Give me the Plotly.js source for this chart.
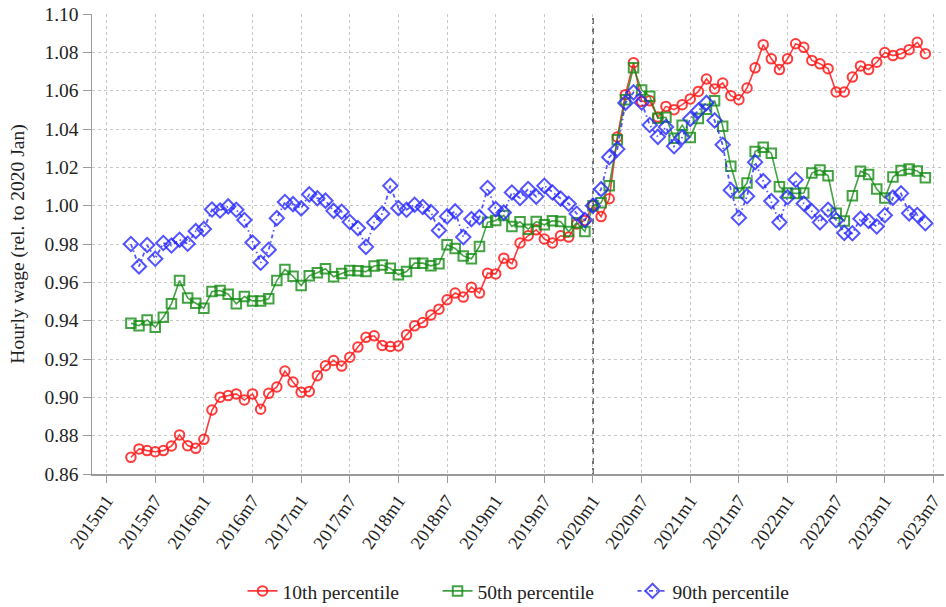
<!DOCTYPE html>
<html>
<head>
<meta charset="utf-8">
<script src="https://cdn.plot.ly/plotly-3.0.1.min.js"></script>
<style>html,body{margin:0;padding:0;background:#fff;}#chart{width:946px;height:607px;}</style>
</head>
<body>
<div id="chart"></div>
<script>
// First observation: 2015m4, monthly through 2023m6
const firstYear = 2015, firstMonth = 4;
const eventLabel = '2020m1';
const tickLabels = ['2015m1','2015m7','2016m1','2016m7','2017m1','2017m7','2018m1','2018m7','2019m1','2019m7','2020m1','2020m7','2021m1','2021m7','2022m1','2022m7','2023m1','2023m7'];
const yTicks = [0.86,0.88,0.90,0.92,0.94,0.96,0.98,1.00,1.02,1.04,1.06,1.08,1.10];
const seriesNames = ['10th percentile','50th percentile','90th percentile'];

const p10 = [0.8687,0.8731,0.8722,0.8716,0.8722,0.8746,0.8804,0.8748,0.8734,0.8781,
0.8934,0.9001,0.9009,0.9018,0.8986,0.9018,0.8938,0.9021,0.9054,0.9137,
0.9080,0.9027,0.9031,0.9113,0.9165,0.9192,0.9163,0.9209,0.9262,0.9313,
0.9321,0.9271,0.9265,0.9268,0.9326,0.9373,0.9390,0.9429,0.9460,0.9509,
0.9544,0.9523,0.9575,0.9544,0.9648,0.9644,0.9726,0.9697,0.9805,0.9843,
0.9874,0.9826,0.9805,0.9843,0.9836,0.9905,0.9923,1.0000,0.9943,1.0036,
1.0358,1.0579,1.0746,1.0544,1.0548,1.0462,1.0518,1.0501,1.0527,1.0557,
1.0596,1.0661,1.0609,1.0640,1.0574,1.0553,1.0614,1.0719,1.0840,1.0766,
1.0710,1.0766,1.0845,1.0826,1.0758,1.0740,1.0715,1.0593,1.0593,1.0671,
1.0729,1.0710,1.0748,1.0799,1.0783,1.0793,1.0814,1.0852,1.0793];

const p50 = [0.9387,0.9374,0.9404,0.9366,0.9418,0.9488,0.9609,0.9518,0.9491,0.9465,
0.9552,0.9557,0.9538,0.9488,0.9526,0.9503,0.9503,0.9514,0.9609,0.9667,
0.9632,0.9583,0.9634,0.9650,0.9671,0.9629,0.9646,0.9662,0.9660,0.9656,
0.9685,0.9690,0.9673,0.9639,0.9656,0.9700,0.9700,0.9686,0.9697,0.9796,
0.9777,0.9738,0.9723,0.9787,0.9913,0.9923,0.9949,0.9891,0.9916,0.9877,
0.9917,0.9900,0.9921,0.9917,0.9865,0.9911,0.9865,1.0000,1.0015,1.0104,
1.0344,1.0553,1.0720,1.0603,1.0571,1.0456,1.0461,1.0352,1.0420,1.0356,
1.0455,1.0503,1.0548,1.0415,1.0206,1.0066,1.0118,1.0283,1.0305,1.0274,
1.0099,1.0066,1.0064,1.0066,1.0170,1.0186,1.0156,0.9960,0.9920,1.0052,
1.0180,1.0162,1.0087,1.0040,1.0149,1.0184,1.0191,1.0181,1.0146];

const p90 = [0.9800,0.9683,0.9795,0.9723,0.9805,0.9792,0.9822,0.9801,0.9867,0.9878,
0.9980,0.9975,0.9996,0.9979,0.9925,0.9808,0.9702,0.9770,0.9935,1.0019,
1.0008,0.9986,1.0059,1.0039,1.0026,0.9973,0.9968,0.9915,0.9883,0.9785,
0.9912,0.9958,1.0104,0.9987,0.9979,1.0005,0.9993,0.9967,0.9871,0.9944,
0.9970,0.9836,0.9930,0.9940,1.0092,0.9982,0.9964,1.0069,1.0040,1.0087,
1.0047,1.0104,1.0069,1.0037,1.0010,0.9958,0.9925,1.0000,1.0086,1.0253,
1.0295,1.0536,1.0591,1.0538,1.0421,1.0359,1.0410,1.0310,1.0356,1.0453,
1.0496,1.0536,1.0445,1.0318,1.0081,0.9937,1.0049,1.0227,1.0128,1.0024,
0.9913,1.0044,1.0135,1.0011,0.9971,0.9913,0.9979,0.9924,0.9858,0.9856,
0.9932,0.9920,0.9891,0.9950,1.0042,1.0064,0.9960,0.9951,0.9908];

// month index (0 = 2015m1)
function labelToIndex(lbl){ const [y,m] = lbl.split('m').map(Number); return (y-2015)*12 + (m-1); }
const x = p10.map((_, i) => (firstYear-2015)*12 + (firstMonth-1) + i);
const tickVals = tickLabels.map(labelToIndex);

const serif = '"Liberation Serif", "Times New Roman", serif';
const fs = 19.5;
const styles = [
  {color:'rgba(255,25,25,0.85)', symbol:'circle-open', size:9.5, dash:'solid', width:1.6},
  {color:'rgba(20,140,20,0.8)', symbol:'square-open', size:9.5, dash:'solid', width:1.6},
  {color:'rgba(40,40,255,0.8)', symbol:'diamond-open', size:11, dash:'4px,3px,1.5px,3px', width:1.8}
];
const data = [p10, p50, p90].map((ys, k) => ({
  x: x, y: ys, type:'scatter', mode:'lines+markers', name: seriesNames[k],
  line:{color:styles[k].color, width:styles[k].width, dash:styles[k].dash},
  marker:{symbol:styles[k].symbol, size:styles[k].size, color:styles[k].color, line:{width:2, color:styles[k].color}}
}));

const layout = {
  width:946, height:607,
  margin:{l:92, r:2, t:14, b:133},
  paper_bgcolor:'#fff', plot_bgcolor:'#fff',
  font:{family:serif, size:fs, color:'#222'},
  showlegend:true,
  legend:{orientation:'h', x:0.52, xanchor:'center', yref:'container', y:0.026, yanchor:'middle',
    font:{family:serif, size:fs}, entrywidth:150, entrywidthmode:'pixels'},
  xaxis:{
    range:[-1.8, 103.3], tickmode:'array', tickvals:tickVals, ticktext:tickLabels, tickangle:-55,
    automargin:false, ticklabeloverflow:'allow',
    showgrid:true, gridcolor:'#c8c8c8', griddash:'dot', gridwidth:1,
    showline:true, linecolor:'#9a9a9a', linewidth:1.5, ticks:'outside', ticklen:7, tickcolor:'#9a9a9a',
    zeroline:false, tickfont:{family:serif, size:18.5, color:'#222'}
  },
  yaxis:{
    range:[0.86, 1.10], tickmode:'array', tickvals:yTicks, tickformat:'.2f', automargin:false,
    showgrid:true, gridcolor:'#c8c8c8', griddash:'dot', gridwidth:1,
    showline:true, linecolor:'#9a9a9a', linewidth:1.5, ticks:'outside', ticklen:8, tickcolor:'#9a9a9a',
    zeroline:false, tickfont:{family:serif, size:fs, color:'#222'},
    title:{text:'Hourly wage (rel. to 2020 Jan)', font:{family:serif, size:fs, color:'#222'}, standoff:14}
  },
  shapes:[{type:'line', xref:'x', yref:'paper', x0:labelToIndex(eventLabel), x1:labelToIndex(eventLabel), y0:0, y1:1,
    line:{color:'#707070', width:2, dash:'6px,4px'}, layer:'below'}]
};

Plotly.newPlot('chart', data, layout, {displayModeBar:false, staticPlot:true});
</script>
</body>
</html>
